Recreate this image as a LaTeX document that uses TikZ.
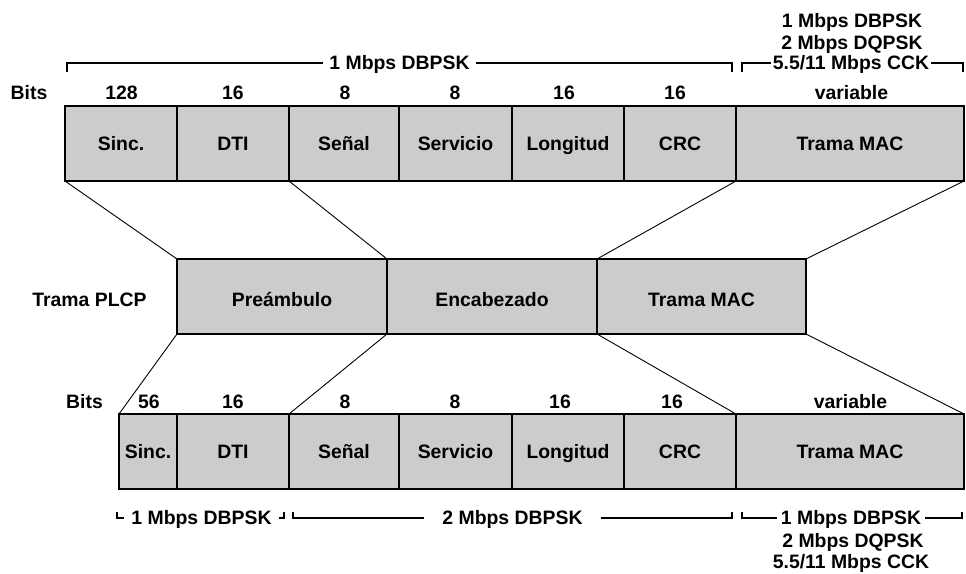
\documentclass[tikz,border=0pt]{standalone}
\usepackage{fontspec}
\setmainfont{Liberation Sans}
\definecolor{cellgray}{RGB}{204,204,204}
\tikzset{
  txt/.style={font=\fontsize{19.4}{22}\selectfont\bfseries, inner sep=0pt, outer sep=0pt,
              text height=13.8pt, text depth=0pt},
  cell/.style={txt, draw=black, fill=cellgray, line width=1.4pt, anchor=north west,
               minimum height=75pt},
  midcell/.style={cell, text height=20pt},
  link/.style={line width=0.9pt},
  brace/.style={line width=1.2pt},
}
\begin{document}
\begin{tikzpicture}[x=1pt, y=-1pt]
\useasboundingbox (0,0) rectangle (966,573);

% upper field layout (long preamble)
\node[cell, minimum width=112pt] (t1) at (65,106) {Sinc.};
\node[cell, minimum width=112pt] (t2) at (177,106) {DTI};
\node[cell, minimum width=110pt] (t3) at (289,106) {Señal};
\node[cell, minimum width=113pt] (t4) at (399,106) {Servicio};
\node[cell, minimum width=112pt] (t5) at (512,106) {Longitud};
\node[cell, minimum width=112pt] (t6) at (624,106) {CRC};
\node[cell, minimum width=228pt] (t7) at (736,106) {Trama MAC};

% PLCP frame
\node[midcell, minimum width=210pt] (m1) at (177,259) {Preámbulo};
\node[midcell, minimum width=210pt] (m2) at (387,259) {Encabezado};
\node[midcell, minimum width=209pt] (m3) at (597,259) {Trama MAC};

% lower field layout (short preamble)
\node[cell, minimum width=58pt]  (b1) at (119,414) {Sinc.};
\node[cell, minimum width=112pt] (b2) at (177,414) {DTI};
\node[cell, minimum width=110pt] (b3) at (289,414) {Señal};
\node[cell, minimum width=113pt] (b4) at (399,414) {Servicio};
\node[cell, minimum width=112pt] (b5) at (512,414) {Longitud};
\node[cell, minimum width=112pt] (b6) at (624,414) {CRC};
\node[cell, minimum width=228pt] (b7) at (736,414) {Trama MAC};

% side labels
\node[txt] (bitsT) at (29,92.5) {Bits};
\node[txt] (plcp) at (89.5,299.5) {Trama PLCP};
\node[txt] (bitsB) at (84.5,401.5) {Bits};

% bit counts, upper
\node[txt] (nt1) at (121.5,92.5) {128};
\node[txt] (nt2) at (233,92.5) {16};
\node[txt] (nt3) at (345,92.5) {8};
\node[txt] (nt4) at (455,92.5) {8};
\node[txt] (nt5) at (564,92.5) {16};
\node[txt] (nt6) at (675,92.5) {16};
\node[txt] (nt7) at (851.5,92.5) {variable};

% bit counts, lower
\node[txt] (nb1) at (149,401.5) {56};
\node[txt] (nb2) at (233,401.5) {16};
\node[txt] (nb3) at (345,401.5) {8};
\node[txt] (nb4) at (455,401.5) {8};
\node[txt] (nb5) at (560,401.5) {16};
\node[txt] (nb6) at (672,401.5) {16};
\node[txt] (nb7) at (850.5,401.5) {variable};

% expansion lines
\draw[link] (t1.south west) -- (m1.north west);
\draw[link] (t3.south west) -- (m2.north west);
\draw[link] (t7.south west) -- (m3.north west);
\draw[link] (t7.south east) -- (m3.north east);
\draw[link] (m1.south west) -- (b1.north west);
\draw[link] (m2.south west) -- (b3.north west);
\draw[link] (m3.south west) -- (b7.north west);
\draw[link] (m3.south east) -- (b7.north east);

% modulation brackets, upper
\coordinate (ta1) at (67,72);
\coordinate (ta2) at (732,72);
\node[txt, outer xsep=6pt] (tal) at (399.5,63) {1 Mbps DBPSK};
\draw[brace] (ta1) |- (tal.west);
\draw[brace] (tal.east) -| (ta2);

\coordinate (tb1) at (742,72);
\coordinate (tb2) at (963,72);
\node[txt, outer xsep=1.5pt] (tbl) at (851,63) {5.5/11 Mbps CCK};
\node[txt] (tbl2) at (852,42.5) {2 Mbps DQPSK};
\node[txt] (tbl3) at (852,20.5) {1 Mbps DBPSK};
\draw[brace] (tb1) |- (tbl.west);
\draw[brace] (tbl.east) -| (tb2);

% modulation brackets, lower
\coordinate (ba1) at (117,512);
\coordinate (ba2) at (284,512);
\node[txt, outer xsep=7pt] (bal) at (201.5,518) {1 Mbps DBPSK};
\draw[brace] (ba1) |- (bal.west);
\draw[brace] (bal.east) -| (ba2);

\coordinate (bb1) at (293,512);
\coordinate (bb2) at (732,512);
\node[txt, outer xsep=18pt] (bbl) at (512.5,518) {2 Mbps DBPSK};
\draw[brace] (bb1) |- (bbl.west);
\draw[brace] (bbl.east) -| (bb2);

\coordinate (bc1) at (742,512);
\coordinate (bc2) at (962,512);
\node[txt, outer xsep=4pt] (bcl) at (851,518) {1 Mbps DBPSK};
\node[txt] (bcl2) at (853,541) {2 Mbps DQPSK};
\node[txt] (bcl3) at (851,561.5) {5.5/11 Mbps CCK};
\draw[brace] (bc1) |- (bcl.west);
\draw[brace] (bcl.east) -| (bc2);
\end{tikzpicture}
\end{document}
